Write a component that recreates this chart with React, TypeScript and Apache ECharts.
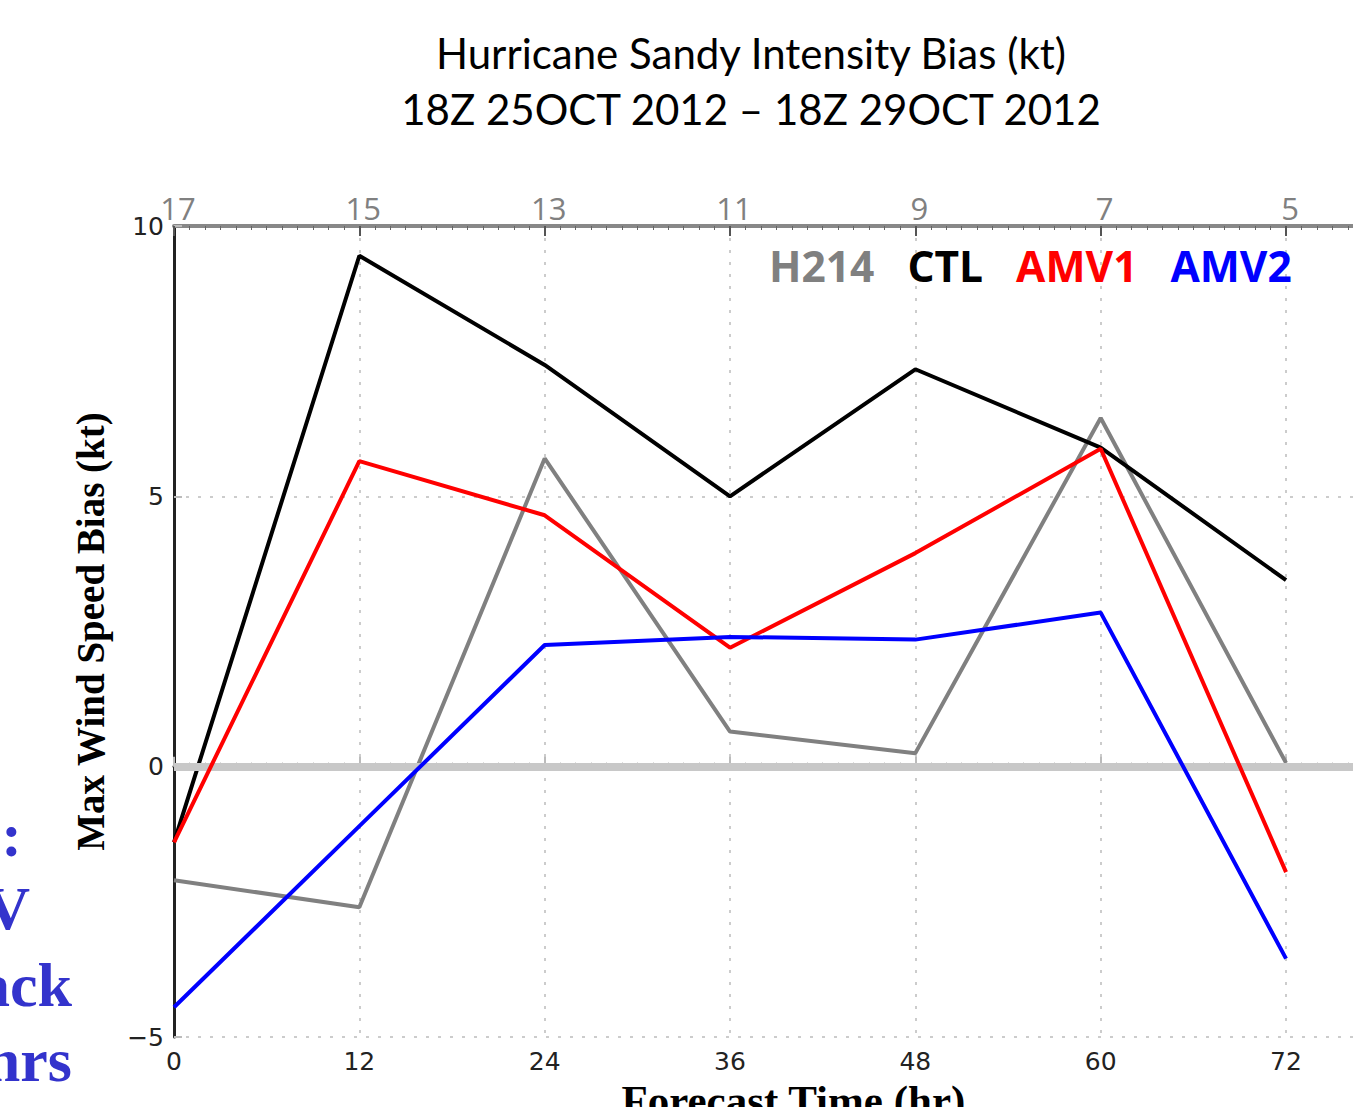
import React, { useEffect, useRef } from "react";
import * as echarts from "echarts";

const hours = [0, 12, 24, 36, 48, 60, 72];
const h214 = [-2.1, -2.6, 5.7, 0.65, 0.25, 6.45, 0.07];
const ctl = [-1.4, 9.45, 7.43, 5.0, 7.35, 5.9, 3.45];
const amv1 = [-1.4, 5.65, 4.65, 2.2, 3.95, 5.88, -1.95];
const amv2 = [-4.45, -1.1, 2.25, 2.4, 2.35, 2.85, -3.55];
const yTicks = [-5, 0, 5, 10];
const seriesNames = ["H214", "CTL", "AMV1", "AMV2"];
const seriesColors = ["#808080", "#000000", "#ff0000", "#0000ff"];
const sideText = ["Comparisons:", "AMV", "Track", "72 hrs"];

export default function App() {
  const ref = useRef<HTMLDivElement>(null);
  useEffect(() => {
    document.body.style.margin = "0";
    if (!ref.current) return;
    const chart = echarts.init(ref.current, undefined, { renderer: "svg" });
    const values = [h214, ctl, amv1, amv2];
    const series: any[] = values.map((vals, i) => ({
      name: seriesNames[i],
      type: "line",
      data: hours.map((h, j) => [h, vals[j]]),
      symbol: "none",
      lineStyle: { color: seriesColors[i], width: 4 },
      itemStyle: { color: seriesColors[i] },
      z: 3 + i,
    }));
    series.push({
      name: "zero",
      type: "line",
      data: [],
      z: 10,
      markLine: {
        silent: true,
        symbol: "none",
        label: { show: false },
        lineStyle: { color: "#c8c8c8", width: 8, type: "solid" },
        data: [{ yAxis: 0 }],
      },
    });
    const sideY = [835, 908, 985, 1060];
    const sideX = [22, 30, 72, 72];
    chart.setOption({
      animation: false,
      backgroundColor: "#ffffff",
      title: {
        text: "Hurricane Sandy Intensity Bias (kt)\n18Z 25OCT 2012 \u2013 18Z 29OCT 2012",
        left: 746,
        top: 20,
        textAlign: "center",
        textStyle: {
          fontFamily: "Lato",
          fontWeight: "normal",
          fontSize: 42,
          lineHeight: 56,
          color: "#000",
        },
      },
      legend: {
        data: seriesNames.map((n, i) => ({
          name: n,
          icon: "none",
          textStyle: { color: seriesColors[i] },
        })),
        left: 759,
        top: 239,
        itemWidth: 0,
        itemHeight: 0,
        itemGap: 28,
        textStyle: {
          fontFamily: "Open Sans",
          fontWeight: "bold",
          fontSize: 42.5,
        },
      },
      grid: { left: 174, top: 226, width: 1204.7, height: 811, outerBoundsMode: "none", containLabel: false },
      xAxis: [
        {
          type: "value",
          position: "bottom",
          min: 0,
          max: 78,
          interval: 12,
          axisLine: { lineStyle: { color: "#222", width: 3 } },
          axisTick: { inside: true, length: 10, lineStyle: { color: "#bbb", width: 2 } },
          minorTick: { show: true, splitNumber: 12, length: 4, lineStyle: { color: "#999", width: 1 } },
          axisLabel: {
            formatter: (v: number) => (v > 72 ? "" : String(v)),
            fontFamily: "DejaVu Sans",
            fontSize: 25,
            color: "#222",
            margin: 12,
          },
          splitLine: { show: true, lineStyle: { color: "#cccccc", width: 2, type: [3, 9] } },
          name: "Forecast Time (hr)",
          nameLocation: "middle",
          nameGap: 38,
          nameTextStyle: {
            fontFamily: "Liberation Serif",
            fontWeight: "bold",
            fontSize: 43,
            color: "#000",
            padding: [0, 0, 0, 34],
          },
        },
        {
          type: "value",
          position: "top",
          min: 0,
          max: 78,
          interval: 12,
          axisLine: { lineStyle: { color: "#888", width: 4 } },
          axisTick: { inside: true, length: 10, lineStyle: { color: "#555", width: 2 } },
          minorTick: { show: true, splitNumber: 12, length: 4, lineStyle: { color: "#666", width: 1 } },
          axisLabel: {
            formatter: (v: number) => (v > 72 ? "" : String(17 - v / 6)),
            fontFamily: "Open Sans",
            fontSize: 31,
            color: "#808080",
            margin: 3,
            padding: [0, 0, 0, 8],
          },
          splitLine: { show: false },
        },
      ],
      yAxis: {
        type: "value",
        min: yTicks[0],
        max: yTicks[yTicks.length - 1],
        interval: 5,
        axisLine: { show: true, lineStyle: { color: "#222", width: 3 } },
        axisTick: { show: true, inside: true, length: 8, lineStyle: { color: "#bbb", width: 2 } },
        axisLabel: {
          fontFamily: "DejaVu Sans",
          fontSize: 25,
          color: "#222",
          margin: 10,
          formatter: (v: number) => (v < 0 ? "\u2212" + Math.abs(v) : String(v)),
        },
        splitLine: { show: true, lineStyle: { color: "#cccccc", width: 2, type: [3, 9] } },
        name: "Max Wind Speed Bias (kt)",
        nameLocation: "middle",
        nameGap: 64,
        nameTextStyle: {
          fontFamily: "Liberation Serif",
          fontWeight: "bold",
          fontSize: 39,
          color: "#000",
        },
      },
      graphic: sideText.map((t, i) => ({
        type: "text",
        x: sideX[i],
        y: sideY[i],
        style: {
          text: t,
          fill: "#3333cc",
          font: "bold 62px 'Liberation Serif'",
          textAlign: "right",
          textVerticalAlign: "middle",
        },
      })),
      series,
    });
    return () => chart.dispose();
  }, []);
  return (
    <div style={{ width: 1353, height: 1107, overflow: "hidden", position: "relative" }}>
      <div ref={ref} style={{ width: 1420, height: 1107 }} />
    </div>
  );
}
